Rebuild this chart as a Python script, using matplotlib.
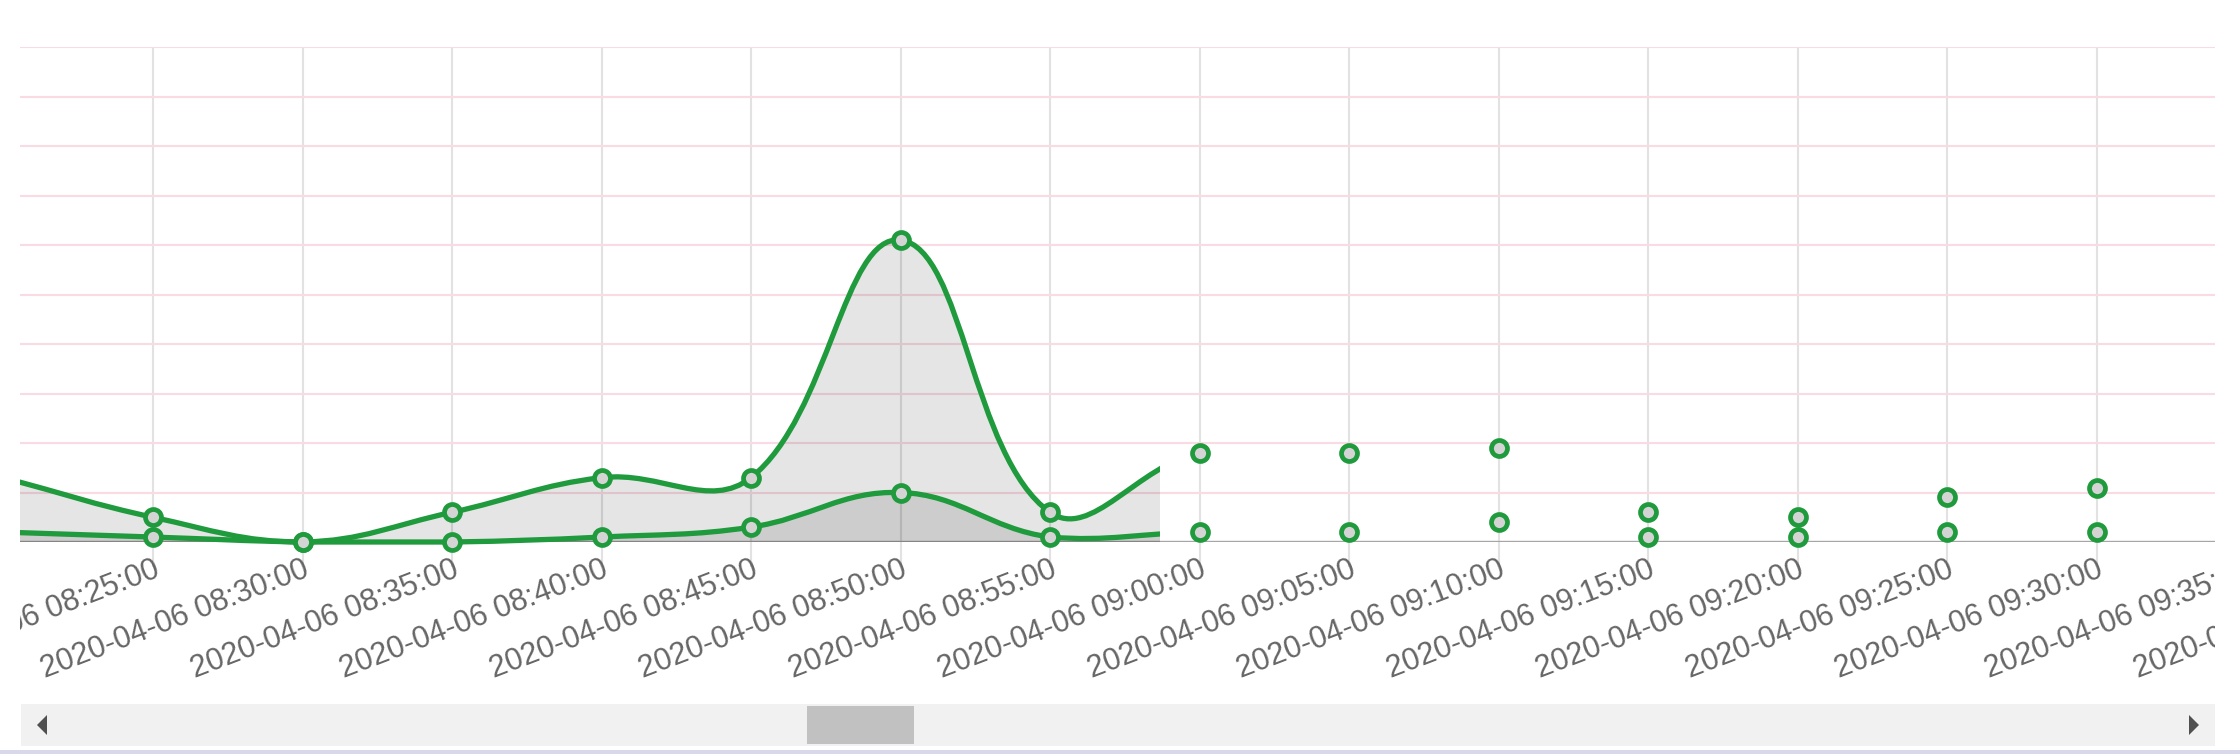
#!/usr/bin/env python3
"""Scrolled time-series area chart (two smoothed series) with a browser-style scrollbar."""

import numpy as np
import matplotlib

matplotlib.use("Agg")
import matplotlib.pyplot as plt
from matplotlib.path import Path
from matplotlib.patches import PathPatch, Rectangle, Polygon
from matplotlib.transforms import Bbox, TransformedBbox, ScaledTranslation

W, H, DPI = 2240, 755, 100

# categories (the container is scrolled: 08:20 is off to the left, 09:35+ off to the right)
times = [
    "2020-04-06 08:20:00", "2020-04-06 08:25:00", "2020-04-06 08:30:00",
    "2020-04-06 08:35:00", "2020-04-06 08:40:00", "2020-04-06 08:45:00",
    "2020-04-06 08:50:00", "2020-04-06 08:55:00", "2020-04-06 09:00:00",
    "2020-04-06 09:05:00", "2020-04-06 09:10:00", "2020-04-06 09:15:00",
    "2020-04-06 09:20:00", "2020-04-06 09:25:00", "2020-04-06 09:30:00",
    "2020-04-06 09:35:00", "2020-04-06 09:40:00",
]
total = [13, 5, 0, 6, 13, 13, 61, 6, 18, 18, 19, 6, 5, 9, 11]
part = [2, 1, 0, 0, 1, 3, 10, 1, 2, 2, 4, 1, 1, 2, 2]
y_ticks = list(range(0, 101, 10))

GREEN = "#1f9a3c"
TENSION = 0.4
LINE_CUT = 7.736  # line/area drawing stops here (index units)


def px(x, y):
    # figure pixel (top-left origin) -> figure fraction
    return x / W, 1 - y / H


def spline_path(ax, xs, ys):
    """Cubic bezier path through the points, control points computed in display space."""
    pts = ax.transData.transform(np.column_stack([xs, ys]))
    n = len(pts)
    cp_prev = np.zeros_like(pts)
    cp_next = np.zeros_like(pts)
    for i in range(n):
        cur = pts[i]
        prv = pts[i - 1] if i > 0 else cur
        nxt = pts[i + 1] if i < n - 1 else cur
        d01 = np.hypot(*(cur - prv))
        d12 = np.hypot(*(nxt - cur))
        tot = d01 + d12
        s01 = d01 / tot if tot else 0
        s12 = d12 / tot if tot else 0
        cp_prev[i] = cur - TENSION * s01 * (nxt - prv)
        cp_next[i] = cur + TENSION * s12 * (nxt - prv)
    inv = ax.transData.inverted()
    cp_prev = inv.transform(cp_prev)
    cp_next = inv.transform(cp_next)
    cp_prev[:, 1] = np.maximum(cp_prev[:, 1], 0)
    cp_next[:, 1] = np.maximum(cp_next[:, 1], 0)
    data = np.column_stack([xs, ys]).astype(float)
    verts = [tuple(data[0])]
    codes = [Path.MOVETO]
    for i in range(1, n):
        verts += [tuple(cp_next[i - 1]), tuple(cp_prev[i]), tuple(data[i])]
        codes += [Path.CURVE4] * 3
    return verts, codes


def main() -> None:
    fig = plt.figure(figsize=(W / DPI, H / DPI), dpi=DPI)
    x0, y0 = px(20, 542)
    x1, y1 = px(2215, 47)
    ax = fig.add_axes([x0, y0, x1 - x0, y1 - y0])

    xlim = ((20 - 3.5) / 149.5, (2215 - 3.5) / 149.5)
    ax.set_xlim(*xlim)
    ax.set_ylim(0, 100)
    for s in ax.spines.values():
        s.set_visible(False)

    ax.set_axisbelow(True)
    ax.set_yticks(y_ticks)
    ax.grid(axis="y", color="#fbdbe3", lw=1.5)
    ax.set_xticks(range(1, 15))
    ax.grid(axis="x", color="#e2e2e2", lw=1.5)
    ax.tick_params(axis="y", left=False, labelleft=False)
    ax.tick_params(axis="x", length=18, width=1.5, color="#e2e2e2", labelbottom=False)
    ax.axhline(0, color="#a6a6a6", lw=2.4, zorder=0.8)

    clip = Rectangle((xlim[0], -6), LINE_CUT - xlim[0], 112, transform=ax.transData)
    xs = np.arange(len(total))
    for series in (total, part):
        verts, codes = spline_path(ax, xs, series)
        area = verts + [(xs[-1], 0), (xs[0], 0), verts[0]]
        acodes = codes + [Path.LINETO, Path.LINETO, Path.CLOSEPOLY]
        fill = PathPatch(Path(area, acodes), facecolor=(0, 0, 0, 0.1), edgecolor="none", zorder=1)
        ax.add_patch(fill)
        fill.set_clip_path(clip)
        line = PathPatch(Path(verts, codes), facecolor="none", edgecolor=GREEN, lw=3.8,
                         capstyle="butt", zorder=3)
        ax.add_patch(line)
        line.set_clip_path(clip)

    mark_clip = TransformedBbox(Bbox([[0, -0.06], [1, 1.02]]), ax.transAxes)
    for series in (total, part):
        (m,) = ax.plot(xs, series, "o", ms=11.5, mfc="#d4d4d4", mec=GREEN, mew=3.4, zorder=4)
        m.set_clip_box(mark_clip)

    # rotated category labels, clipped to the visible scroll window
    lab_clip = TransformedBbox(Bbox([[20 / W, 0], [2215 / W, 1]]), fig.transFigure)
    off = ScaledTranslation(0, -13 / DPI, fig.dpi_scale_trans)
    for i, t in enumerate(times):
        txt = ax.text(i, 0, t, transform=ax.get_xaxis_transform() + off, rotation=21,
                      ha="right", va="top", rotation_mode="anchor", fontsize=22,
                      color="#666666", family="Liberation Sans")
        txt.set_clip_path(None)
        txt.set_clip_box(lab_clip)
        txt.set_clip_on(True)

    # scrollbar
    def rect(xa, ya, xb, yb, color):
        fx, fy = px(xa, yb)
        fig.add_artist(Rectangle((fx, fy), (xb - xa) / W, (yb - ya) / H,
                                 transform=fig.transFigure, color=color, lw=0))

    rect(21, 704, 2215, 746, "#f1f1f1")
    rect(807, 706, 914, 744, "#c1c1c1")
    rect(0, 750, W, 754, "#d8d8ea")
    fig.add_artist(Polygon([px(37, 725), px(47, 715), px(47, 735)], closed=True,
                           transform=fig.transFigure, color="#505050", lw=0))
    fig.add_artist(Polygon([px(2199, 725), px(2189, 715), px(2189, 735)], closed=True,
                           transform=fig.transFigure, color="#505050", lw=0))

    fig.savefig("out.png", dpi=DPI)


if __name__ == "__main__":
    main()
